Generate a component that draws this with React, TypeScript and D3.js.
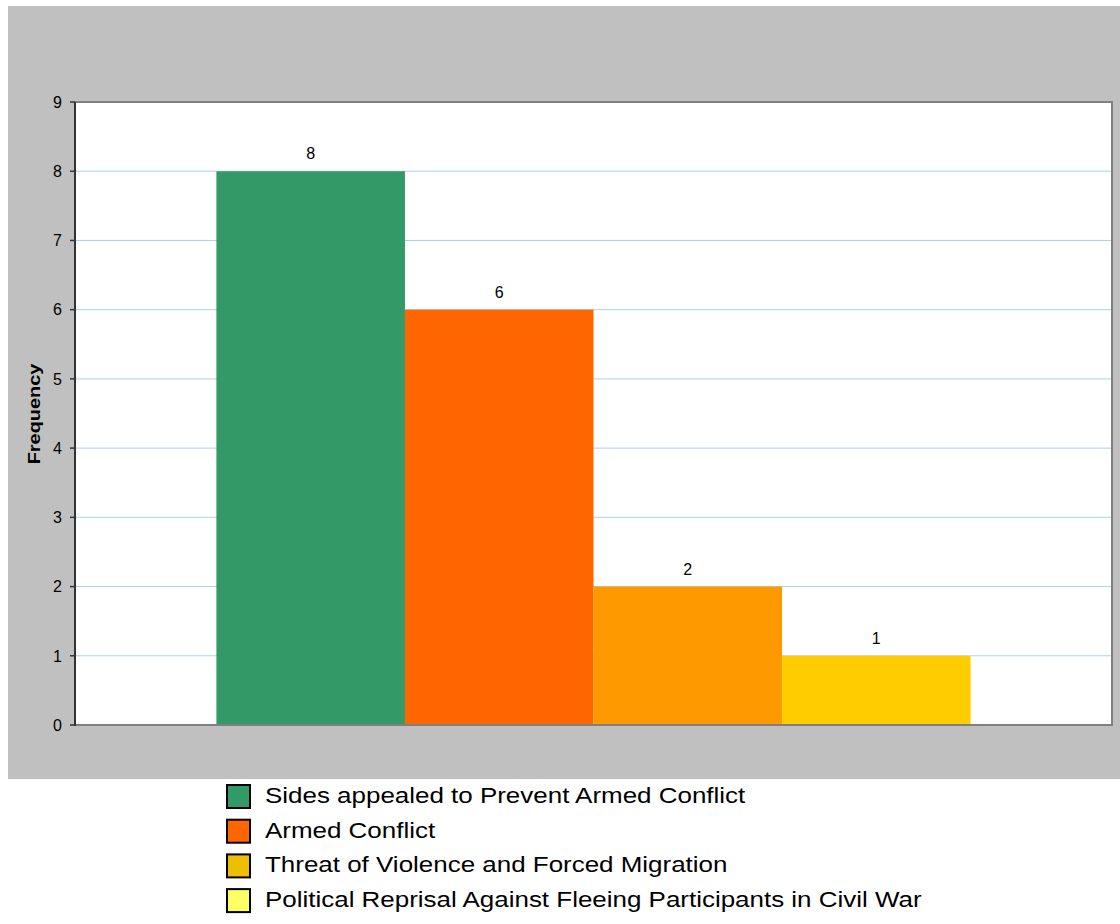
import React from "react";
import * as d3 from "d3";

// Outcome categories and their counts
const seriesNames = [
  "Sides appealed to Prevent Armed Conflict",
  "Armed Conflict",
  "Threat of Violence and Forced Migration",
  "Political Reprisal Against Fleeing Participants in Civil War",
];
const frequencies = [8, 6, 2, 1];
const barColors = ["#339966", "#FF6600", "#FF9900", "#FFCC00"];
const legendColors = ["#339966", "#FF6600", "#EDBF00", "#FFFF66"];
const yTicks = [0, 1, 2, 3, 4, 5, 6, 7, 8, 9];
const yLabel = "Frequency";

const W = 1120;
const H = 924;
const plot = { left: 75, right: 1112, top: 102, bottom: 725 };
// the chart's text is drawn horizontally widened
const legendStretch = 1.18;
const titleStretch = 1.17;

export default function App() {
  const x = d3
    .scaleBand<string>()
    .domain(seriesNames)
    .range([plot.left, plot.right])
    .paddingInner(0)
    .paddingOuter(0.75);
  const y = d3.scaleLinear().domain([0, 9]).range([plot.bottom, plot.top]);
  const font = "'Liberation Sans', Arial, sans-serif";

  return (
    <svg
      width={W}
      height={H}
      style={{ position: "absolute", left: 0, top: 0, display: "block" }}
      fontFamily={font}
    >
      <rect x={0} y={0} width={W} height={H} fill="#ffffff" />
      <rect x={8} y={6} width={W - 8} height={773} fill="#C0C0C0" />
      <rect
        x={plot.left}
        y={plot.top}
        width={plot.right - plot.left}
        height={plot.bottom - plot.top}
        fill="#ffffff"
      />
      {/* horizontal gridlines */}
      {yTicks
        .filter((t) => t > 0 && t < 9)
        .map((t) => (
          <line
            key={"g" + t}
            x1={plot.left}
            x2={plot.right}
            y1={y(t)}
            y2={y(t)}
            stroke="#A8D0F8"
            strokeWidth={1}
          />
        ))}
      {/* bars */}
      {seriesNames.map((s, i) => (
        <rect
          key={s}
          x={x(s)}
          y={y(frequencies[i])}
          width={x.bandwidth()}
          height={y(0) - y(frequencies[i])}
          fill={barColors[i]}
        />
      ))}
      {/* value labels */}
      {seriesNames.map((s, i) => (
        <text
          key={"v" + s}
          x={(x(s) as number) + x.bandwidth() / 2}
          y={y(frequencies[i]) - 12}
          textAnchor="middle"
          fontSize={16}
          fill="#000"
        >
          {frequencies[i]}
        </text>
      ))}
      {/* plot frame */}
      <line x1={plot.left} x2={plot.right + 1} y1={plot.top} y2={plot.top} stroke="#808080" strokeWidth={2} />
      <line x1={plot.right} x2={plot.right} y1={plot.top} y2={plot.bottom + 1} stroke="#808080" strokeWidth={2} />
      <line x1={plot.left} x2={plot.right + 1} y1={plot.bottom} y2={plot.bottom} stroke="#808080" strokeWidth={2} />
      {/* y axis */}
      <line x1={plot.left} x2={plot.left} y1={plot.top} y2={plot.bottom + 1} stroke="#333" strokeWidth={2} />
      {yTicks.map((t) => (
        <g key={"t" + t}>
          <line x1={plot.left - 5} x2={plot.left} y1={y(t)} y2={y(t)} stroke="#333" strokeWidth={1.5} />
          <text x={62} y={y(t)} dy="0.36em" textAnchor="end" fontSize={16} fill="#000">
            {t}
          </text>
        </g>
      ))}
      <text
        transform={`translate(40,414) rotate(-90) scale(${titleStretch},1)`}
        textAnchor="middle"
        fontSize={17}
        fontWeight="bold"
        fill="#000"
      >
        {yLabel}
      </text>
      {/* legend */}
      {seriesNames.map((s, i) => {
        const top = 785 + i * 34.7;
        return (
          <g key={"l" + s}>
            <rect x={227} y={top} width={23} height={23} fill={legendColors[i]} stroke="#000" strokeWidth={2} />
            <text
              transform={`translate(265,${top + 18}) scale(${legendStretch},1)`}
              fontSize={22}
              fill="#000"
            >
              {s}
            </text>
          </g>
        );
      })}
    </svg>
  );
}
